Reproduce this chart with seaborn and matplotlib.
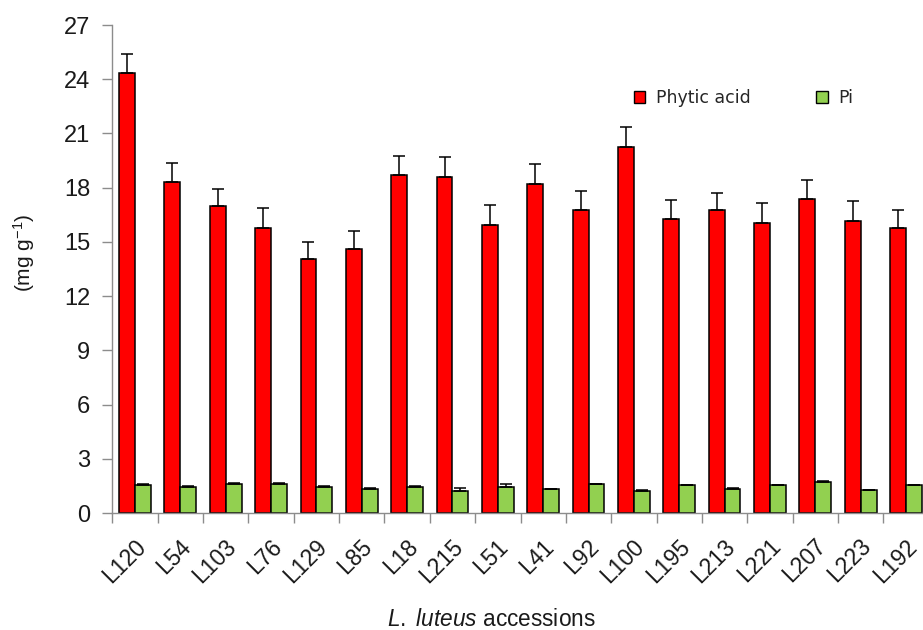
import matplotlib
matplotlib.use("Agg")
import matplotlib.pyplot as plt
import matplotlib.transforms as mtransforms
from matplotlib.patches import Patch
import numpy as np
import pandas as pd
import seaborn as sns

# Accessions and measured contents (mg g-1)
accessions = ["L120", "L54", "L103", "L76", "L129", "L85", "L18", "L215", "L51",
              "L41", "L92", "L100", "L195", "L213", "L221", "L207", "L223", "L192"]
phytic_acid = [24.33, 18.30, 16.96, 15.78, 14.03, 14.62, 18.69, 18.60, 15.96,
               18.23, 16.76, 20.26, 16.28, 16.78, 16.07, 17.35, 16.18, 15.78]
phytic_err = [1.07, 1.08, 0.94, 1.07, 0.98, 0.97, 1.09, 1.07, 1.09,
              1.07, 1.07, 1.07, 1.05, 0.95, 1.07, 1.05, 1.07, 1.00]
pi_values = [1.57, 1.46, 1.62, 1.62, 1.46, 1.35, 1.46, 1.22, 1.42,
             1.31, 1.59, 1.22, 1.53, 1.35, 1.53, 1.72, 1.26, 1.53]
pi_err = [0.04, 0.04, 0.04, 0.04, 0.04, 0.04, 0.04, 0.18, 0.17,
          0.04, 0.04, 0.04, 0.04, 0.04, 0.04, 0.04, 0.04, 0.04]
series = ["Phytic acid", "Pi"]
colors = {"Phytic acid": "#FF0000", "Pi": "#92D050"}

df = pd.DataFrame({
    "accession": accessions * 2,
    "value": phytic_acid + pi_values,
    "series": [series[0]] * len(accessions) + [series[1]] * len(accessions),
})
errors = {series[0]: phytic_err, series[1]: pi_err}

sns.set_theme(style="ticks")
plt.rcParams["font.family"] = ["Liberation Sans", "DejaVu Sans"]
plt.rcParams["mathtext.fontset"] = "custom"
plt.rcParams["mathtext.rm"] = "Liberation Sans"
plt.rcParams["mathtext.it"] = "Liberation Sans:italic"

fig = plt.figure(figsize=(9.23, 6.30), dpi=100)
ax = fig.add_axes([0.1217, 0.1857, 0.8845, 0.7746])

sns.barplot(data=df, x="accession", y="value", hue="series", order=accessions,
            hue_order=series, palette=colors, saturation=1, width=0.7,
            errorbar=None, edgecolor="black", linewidth=1.1, legend=False,
            ax=ax, zorder=2)

# Upper (plus) error bars on top of each bar
for name, container in zip(series, ax.containers):
    xs = [p.get_x() + p.get_width() / 2 for p in container.patches]
    ys = [p.get_height() for p in container.patches]
    err = errors[name]
    ax.errorbar(xs, ys, yerr=[np.zeros(len(err)), err], fmt="none",
                ecolor="black", elinewidth=1.1, capsize=4.3, capthick=1.1,
                zorder=3)

ax.set_ylim(0, 27)
ax.set_yticks(np.arange(0, 28, 3))
ax.set_xlim(-0.5, len(accessions) - 0.5)

for side in ("top", "right"):
    ax.spines[side].set_visible(False)
for side in ("left", "bottom"):
    ax.spines[side].set_color("#8c8c8c")
    ax.spines[side].set_linewidth(1.0)

ax.tick_params(axis="y", direction="out", length=7, width=1.0, color="#8c8c8c",
               labelsize=17, pad=9, labelcolor="#1a1a1a")
ax.tick_params(axis="x", which="major", length=0, labelsize=16.5, pad=0,
               labelcolor="#1a1a1a")
ax.set_xticks(np.arange(-0.5, len(accessions), 1.0), minor=True)
ax.tick_params(axis="x", which="minor", direction="out", length=7, width=1.0,
               color="#8c8c8c")

offset = mtransforms.ScaledTranslation(7 / 100, -30 / 100, fig.dpi_scale_trans)
for lbl in ax.get_xticklabels():
    lbl.set_rotation(45)
    lbl.set_ha("right")
    lbl.set_va("center")
    lbl.set_rotation_mode("anchor")
    lbl.set_transform(lbl.get_transform() + offset)

ax.set_xlabel("")
ax.set_ylabel(r"(mg g$^{-1}$)", fontsize=15, color="#1a1a1a")
ax.yaxis.set_label_coords(-0.092, 0.533)

fig.text(491 / 923, 1 - 620 / 630, r"$\mathit{L.\ luteus}$ accessions",
         fontsize=16.3, ha="center", va="center", color="#1a1a1a")

handles = [Patch(facecolor=colors[s], edgecolor="black", linewidth=1.0, label=s)
           for s in series]
fig.legend(handles=handles, loc="center left", bbox_to_anchor=(634 / 923, 1 - 98 / 630),
           ncol=2, frameon=False, prop={"family": "DejaVu Sans", "size": 12.5},
           handlelength=0.65, handleheight=0.65, handletextpad=0.6,
           columnspacing=3.8, borderpad=0, borderaxespad=0)

fig.savefig("out.png", dpi=100, facecolor="white")
